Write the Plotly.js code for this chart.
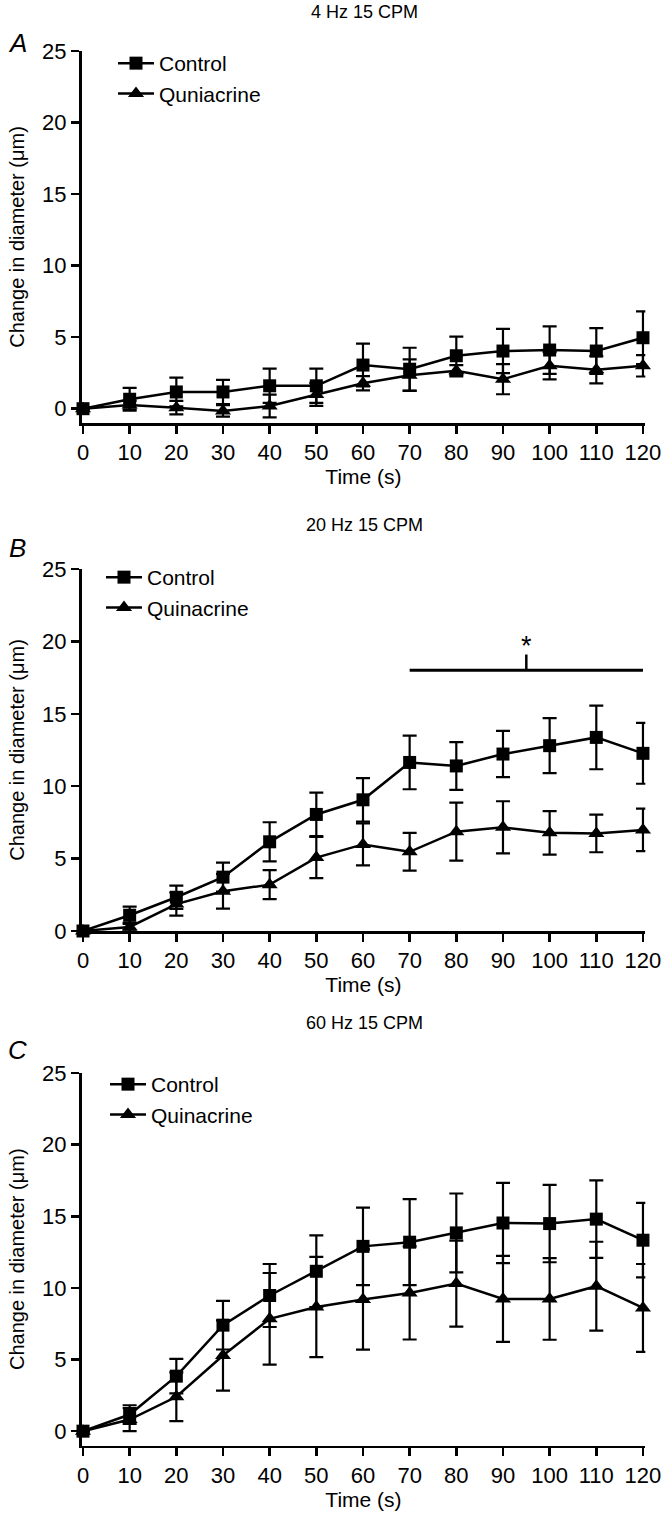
<!DOCTYPE html>
<html>
<head>
<meta charset="utf-8">
<script src="https://cdn.plot.ly/plotly-3.0.1.min.js"></script>
<style>
  body { margin: 0; background: white; }
  #chart { width: 664px; height: 1517px; }
</style>
</head>
<body>
<div id="chart"></div>
<script>
// ---- data ----
const timeS = [0, 10, 20, 30, 40, 50, 60, 70, 80, 90, 100, 110, 120];
const timeLabels = ['0', '10', '20', '30', '40', '50', '60', '70', '80', '90', '100', '110', '120'];
const yTicks = [0, 5, 10, 15, 20, 25];

// A: 4 Hz 15 CPM
const ctrlA    = [0, 0.66, 1.17, 1.17, 1.6, 1.6, 3.05, 2.76, 3.7, 4.03, 4.1, 4.03, 4.96];
const ctrlErrA = [0, 0.8, 1.0, 0.85, 1.2, 1.2, 1.5, 1.5, 1.33, 1.55, 1.66, 1.6, 1.84];
const quinA    = [0, 0.26, 0.07, -0.16, 0.19, 1.0, 1.78, 2.34, 2.65, 2.06, 3.0, 2.72, 3.0];
const quinErrA = [0, 0.3, 0.47, 0.4, 0.8, 0.8, 0.5, 1.1, 0.4, 1.05, 0.95, 0.95, 0.75];

// B: 20 Hz 15 CPM
const ctrlB    = [0, 1.09, 2.33, 3.72, 6.16, 8.05, 9.06, 11.64, 11.4, 12.22, 12.8, 13.37, 12.27];
const ctrlErrB = [0, 0.6, 0.8, 1.0, 1.35, 1.5, 1.5, 1.85, 1.65, 1.6, 1.9, 2.2, 2.1];
const quinB    = [0, 0.28, 1.86, 2.74, 3.2, 5.07, 5.98, 5.47, 6.86, 7.16, 6.78, 6.74, 6.98];
const quinErrB = [0, 0.3, 0.8, 1.2, 1.0, 1.42, 1.45, 1.3, 2.0, 1.8, 1.5, 1.3, 1.47];

// C: 60 Hz 15 CPM
const ctrlC    = [0, 1.16, 3.84, 7.4, 9.47, 11.16, 12.9, 13.19, 13.84, 14.53, 14.49, 14.8, 13.33];
const ctrlErrC = [0, 0.65, 1.2, 1.7, 2.2, 2.5, 2.7, 3.0, 2.75, 2.8, 2.7, 2.7, 2.6];
const quinC    = [0, 0.81, 2.4, 5.28, 7.84, 8.67, 9.19, 9.65, 10.3, 9.23, 9.23, 10.12, 8.6];
const quinErrC = [0, 0.8, 1.7, 2.45, 3.2, 3.5, 3.5, 3.25, 3.0, 3.0, 2.85, 3.1, 3.07];

// significance bar in B
const sigSpan = [70, 120];
const sigLevel = 18;
const sigMid = 95;
const sigTop = 19.1;

const panelTitles = ['4 Hz 15 CPM', '20 Hz 15 CPM', '60 Hz 15 CPM'];
const panelLetters = ['A', 'B', 'C'];
const quinNames = ['Quniacrine', 'Quinacrine', 'Quinacrine'];

// ---- helpers ----
const FONT = 'Liberation Sans, Arial, sans-serif';
const H = 1517, W = 664;
const py = p => (H - p) / H;   // pixel row -> paper y
const px = p => p / W;         // pixel col -> paper x

function series(name, y, err, symbol, n, legendId) {
    return {
        x: timeS,
        y: y,
        name: name,
        type: 'scatter',
        mode: 'lines+markers',
        xaxis: n === 1 ? 'x' : 'x' + n,
        yaxis: n === 1 ? 'y' : 'y' + n,
        legend: legendId,
        line: { color: 'black', width: 2.5 },
        marker: { symbol: symbol, size: symbol === 'square' ? 13 : 14, color: 'black' },
        error_y: { type: 'data', array: err, visible: true, color: 'black', thickness: 2.2, width: 7 },
        cliponaxis: false
    };
}

const data = [
    series(quinNames[0], quinA, quinErrA, 'triangle-up', 1, 'legend'),
    series('Control', ctrlA, ctrlErrA, 'square', 1, 'legend'),
    series(quinNames[1], quinB, quinErrB, 'triangle-up', 2, 'legend2'),
    series('Control', ctrlB, ctrlErrB, 'square', 2, 'legend2'),
    series(quinNames[2], quinC, quinErrC, 'triangle-up', 3, 'legend3'),
    series('Control', ctrlC, ctrlErrC, 'square', 3, 'legend3')
];

function xAxis() {
    return {
        domain: [px(81.6), px(645.3)],
        range: [-0.3, 120.5],
        tickmode: 'array',
        tickvals: timeS,
        ticktext: timeLabels,
        ticks: 'outside', ticklen: 8, tickwidth: 2.5, tickcolor: 'black',
        showline: true, linewidth: 2.8, linecolor: 'black',
        showgrid: false, zeroline: false,
        tickfont: { family: FONT, size: 22, color: 'black' },
        title: { text: 'Time (s)', font: { family: FONT, size: 21, color: 'black' }, standoff: 2 },
        fixedrange: true
    };
}

function yAxis(domain, range, anchor) {
    return {
        domain: domain,
        range: range,
        anchor: anchor,
        tickmode: 'array',
        tickvals: yTicks,
        ticks: 'outside', ticklen: 8, tickwidth: 2.5, tickcolor: 'black',
        showline: true, linewidth: 2.8, linecolor: 'black',
        showgrid: false, zeroline: false,
        tickfont: { family: FONT, size: 22, color: 'black' },
        title: { text: 'Change in diameter (μm)', font: { family: FONT, size: 20, color: 'black' }, standoff: 12 },
        fixedrange: true
    };
}

const domA = [py(423), py(51)];
const domB = [py(931), py(569)];
const domC = [py(1445.5), py(1073)];

function legendAt(x, yTop) {
    return {
        x: px(x), y: py(yTop), xanchor: 'left', yanchor: 'top',
        font: { family: FONT, size: 21, color: 'black' },
        bgcolor: 'rgba(0,0,0,0)', borderwidth: 0,
        itemwidth: 36, tracegroupgap: 0,
        traceorder: 'reversed'
    };
}

const titleRows = [12, 525, 1023];
const letterRows = [43, 548, 1050];

const annotations = [];
panelTitles.forEach((t, i) => {
    annotations.push({
        xref: 'paper', yref: 'paper', x: px(364), y: py(titleRows[i]),
        xanchor: 'center', yanchor: 'middle', showarrow: false,
        text: t, font: { family: FONT, size: 18, color: 'black' }
    });
    annotations.push({
        xref: 'paper', yref: 'paper', x: px(17), y: py(letterRows[i]),
        xanchor: 'center', yanchor: 'middle', showarrow: false,
        text: '<i>' + panelLetters[i] + '</i>', font: { family: FONT, size: 26, color: 'black' }
    });
});
annotations.push({
    xref: 'x2', yref: 'y2', x: sigMid, y: sigTop,
    xanchor: 'center', yanchor: 'bottom', showarrow: false, yshift: -9,
    text: '*', font: { family: FONT, size: 27, color: 'black' }
});

const shapes = [
    { type: 'line', xref: 'x2', yref: 'y2', x0: sigSpan[0], x1: sigSpan[1], y0: sigLevel, y1: sigLevel,
      line: { color: 'black', width: 3 } },
    { type: 'line', xref: 'x2', yref: 'y2', x0: sigMid, x1: sigMid, y0: sigLevel, y1: sigTop,
      line: { color: 'black', width: 2.5 } }
];

const layout = {
    width: W, height: H,
    margin: { l: 0, r: 0, t: 0, b: 0 },
    paper_bgcolor: 'white', plot_bgcolor: 'white',
    showlegend: true,
    xaxis: Object.assign(xAxis(), { anchor: 'y' }), yaxis: yAxis(domA, [-1, 25], 'x'),
    xaxis2: Object.assign(xAxis(), { anchor: 'y2' }), yaxis2: yAxis(domB, [0, 25], 'x2'),
    xaxis3: Object.assign(xAxis(), { anchor: 'y3' }), yaxis3: yAxis(domC, [-1, 25], 'x3'),
    legend: legendAt(113, 43),
    legend2: legendAt(101, 557),
    legend3: legendAt(105, 1064),
    annotations: annotations,
    shapes: shapes
};

Plotly.newPlot('chart', data, layout, { displayModeBar: false, staticPlot: true });
</script>
</body>
</html>
